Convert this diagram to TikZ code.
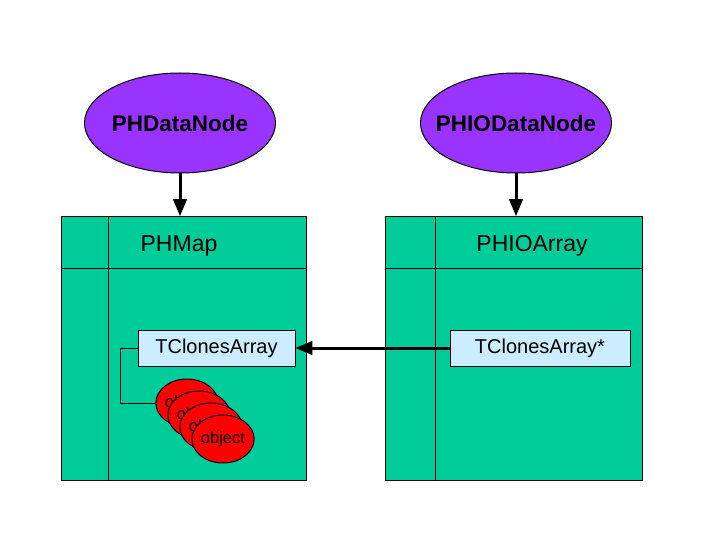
\documentclass[tikz,border=0pt]{standalone}
\usepackage{fontspec}
\setmainfont{Liberation Sans}
\usetikzlibrary{arrows,shapes}
\definecolor{dnpurple}{HTML}{9933FF}
\definecolor{cteal}{HTML}{00CC99}
\definecolor{tcblue}{HTML}{CCECFF}
\tikzstyle{dnode}=[ellipse,draw=black,fill=dnpurple,minimum width=191pt,minimum height=100pt,inner xsep=-15pt,inner ysep=0pt,font=\fontsize{22.5}{25}\selectfont\bfseries]
\tikzstyle{cbox}=[rectangle,draw=black,fill=cteal,anchor=north west,minimum height=264pt]
\tikzstyle{clabel}=[font=\fontsize{23}{26}\selectfont]
\tikzstyle{tcbox}=[rectangle,draw=black,fill=tcblue,minimum height=36pt,inner sep=0pt,font=\fontsize{20}{23}\selectfont]
\tikzstyle{obj}=[ellipse,draw=black,fill=red,minimum width=60pt,minimum height=48pt,inner sep=0pt,font=\fontsize{16.5}{19}\selectfont]
\tikzstyle{dgraph}=[-triangle 45, line width=3pt]

\begin{document}
\begin{tikzpicture}[x=1pt,y=-1pt,line width=1pt]
\useasboundingbox[fill=white] (0,0) rectangle (720,540);
\node[dnode] (DN) at (180,123) {PHDataNode};
\node[dnode] (IODN) at (516,123) {PHIODataNode};
\node[cbox,minimum width=245pt] (M) at (61,216) {};
\node[cbox,minimum width=257pt] (IOA) at (385,216) {};
\draw ([xshift=47pt]M.north west)--([xshift=47pt]M.south west);
\draw ([yshift=-52pt]M.north west)--([yshift=-52pt]M.north east);
\draw ([xshift=50pt]IOA.north west)--([xshift=50pt]IOA.south west);
\draw ([yshift=-52pt]IOA.north west)--([yshift=-52pt]IOA.north east);
\node[clabel] (ML) at (179,246) {PHMap};
\node[clabel] (IOAL) at (532,246) {PHIOArray};
\node[tcbox,minimum width=157pt] (TC) at (216.5,348) {TClonesArray};
\node[tcbox,minimum width=180pt] (TCP) at (540,348) {TClonesArray*};
\draw[dgraph](DN)--(M.north-|DN);
\draw[dgraph](IODN)--(IOA.north-|IODN);
\draw[dgraph](TCP)--(TC);
\node[obj] (O1) at (187,403) {object};
\node[obj] (O2) at (199,415) {object};
\node[obj] (O3) at (211,427) {object};
\node[obj] (O4) at (223,439) {object};
\draw (TC.west)--++(-17,0)|-(O1.west);
\end{tikzpicture}
\end{document}
